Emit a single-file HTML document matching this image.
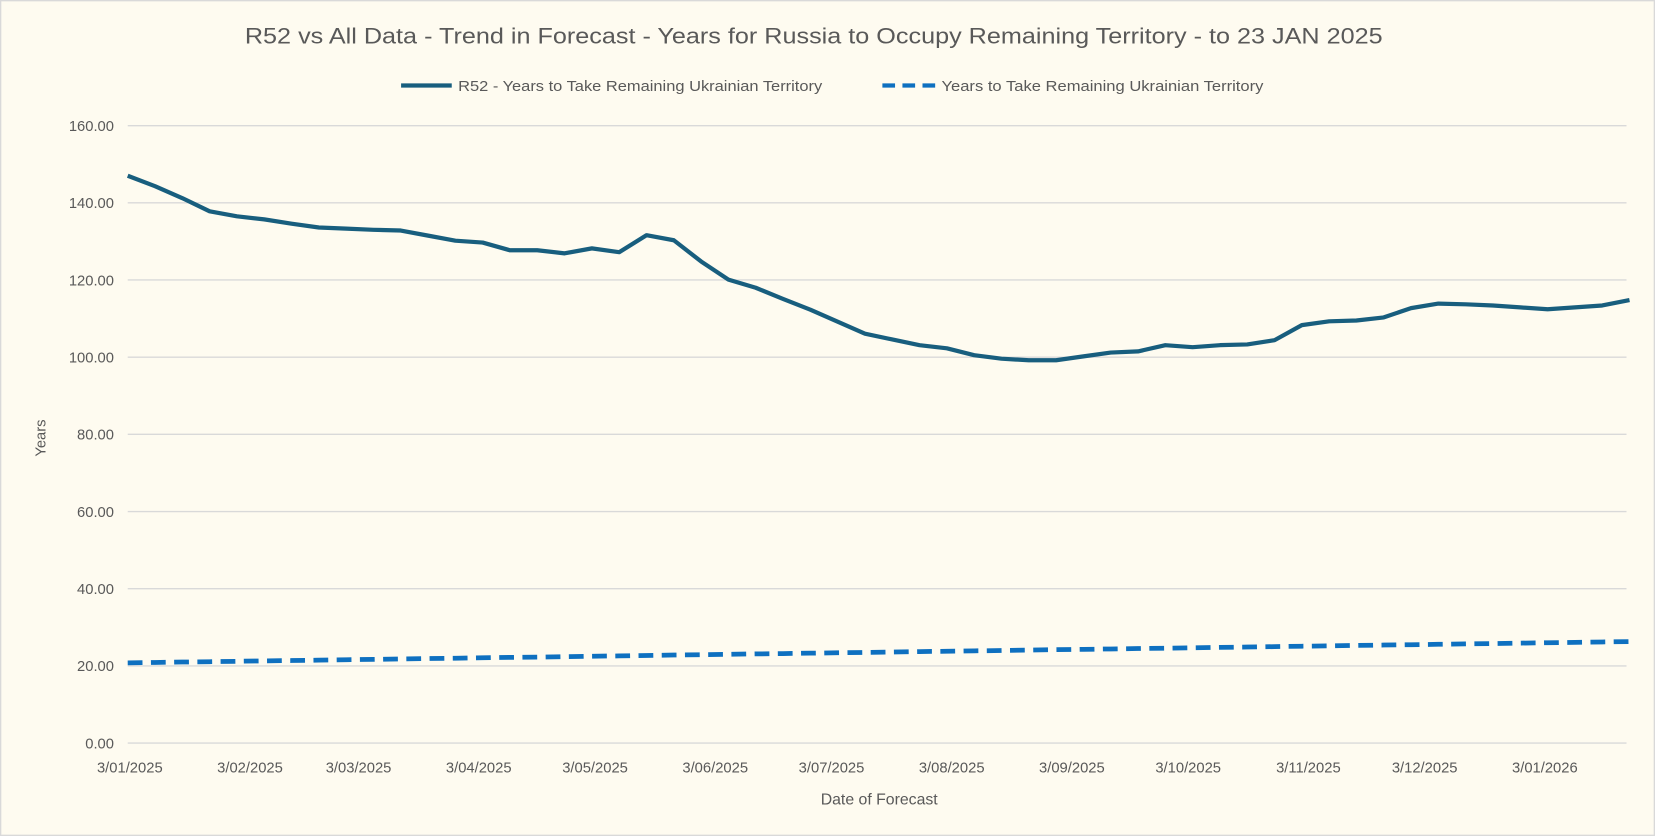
<!DOCTYPE html>
<html><head><meta charset="utf-8"><style>
html,body{margin:0;padding:0;background:#FEFBF0;}
svg{display:block;}
text{font-family:"Liberation Sans",sans-serif;fill:#595959;}
</style></head><body>
<svg id="c" width="1655" height="836" viewBox="0 0 1568 792" xmlns="http://www.w3.org/2000/svg">
<rect x="0.5" y="0.5" width="1567" height="791" fill="#FEFBF0" stroke="#D9D9D9" stroke-width="1.5"/>
<text x="232" y="41" font-size="21" textLength="1078" lengthAdjust="spacingAndGlyphs">R52 vs All Data  - Trend in Forecast - Years for Russia to Occupy Remaining Territory - to 23 JAN 2025</text>
<line x1="380" y1="81" x2="428" y2="81" stroke="#185E7E" stroke-width="4"/>
<text x="434" y="86" font-size="14" textLength="345" lengthAdjust="spacingAndGlyphs">R52 - Years to Take Remaining Ukrainian Territory</text>
<line x1="836" y1="81" x2="886" y2="81" stroke="#0E70C0" stroke-width="4" stroke-dasharray="12,7"/>
<text x="892" y="86" font-size="14" textLength="305" lengthAdjust="spacingAndGlyphs">Years to Take Remaining Ukrainian Territory</text>
<g id="grid" stroke="#D9D9D9" stroke-width="1.3"></g>
<g id="ylab" font-size="14" text-anchor="end"></g>
<g id="xlab" font-size="14" text-anchor="middle"></g>
<text x="833" y="762" font-size="15" text-anchor="middle">Date of Forecast</text>
<text transform="translate(43,415) rotate(-90)" font-size="14" text-anchor="middle">Years</text>
<polyline id="dash" fill="none" stroke="#0E70C0" stroke-width="4.5" stroke-dasharray="14,8"/>
<polyline id="solid" fill="none" stroke="#185E7E" stroke-width="4" stroke-linejoin="round"/>
</svg>
<script>
var ns="http://www.w3.org/2000/svg";
function Y(v){return 704-v*3.65625;}
var g=document.getElementById('grid'),yl=document.getElementById('ylab'),xl=document.getElementById('xlab');
for(var i=0;i<=8;i++){var v=i*20,y=Y(v);
var l=document.createElementNS(ns,'line');l.setAttribute('x1',121);l.setAttribute('x2',1541);l.setAttribute('y1',y);l.setAttribute('y2',y);g.appendChild(l);
var t=document.createElementNS(ns,'text');t.setAttribute('x',108);t.setAttribute('y',y+5);t.textContent=v.toFixed(2);yl.appendChild(t);}
var labs=[["3/01/2025",0],["3/02/2025",31],["3/03/2025",59],["3/04/2025",90],["3/05/2025",120],["3/06/2025",151],["3/07/2025",181],["3/08/2025",212],["3/09/2025",243],["3/10/2025",273],["3/11/2025",304],["3/12/2025",334],["3/01/2026",365]];
labs.forEach(function(a){var t=document.createElementNS(ns,'text');t.setAttribute('x',123+a[1]*3.673);t.setAttribute('y',732);t.textContent=a[0];xl.appendChild(t);});
var vals=[147,144.3,141.2,137.8,136.5,135.7,134.6,133.6,133.3,133.0,132.8,131.5,130.2,129.7,127.7,127.7,126.9,128.2,127.2,131.6,130.3,124.8,120.1,118.0,115.1,112.3,109.2,106.1,104.6,103.1,102.3,100.5,99.6,99.2,99.2,100.2,101.2,101.5,103.1,102.6,103.1,103.3,104.4,108.3,109.3,109.5,110.3,112.7,113.9,113.7,113.4,112.9,112.4,112.9,113.4,114.8];
var p=[],d=[];
vals.forEach(function(v,i){var x=121+i*25.87;p.push(x+','+Y(v).toFixed(1));
var dv=20.8+5.5*i/55;d.push(x+','+Y(dv).toFixed(1));});
document.getElementById('solid').setAttribute('points',p.join(' '));
document.getElementById('dash').setAttribute('points',d.join(' '));
</script>
</body></html>
